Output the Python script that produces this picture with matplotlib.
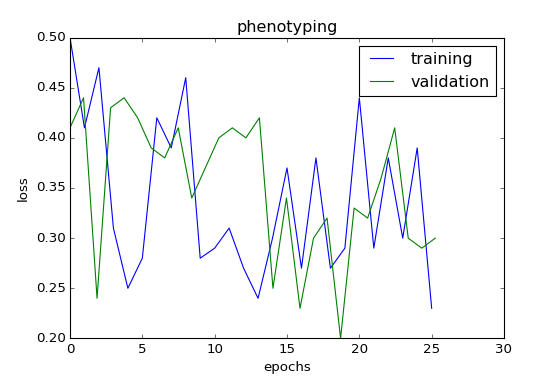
import numpy as np
import matplotlib
matplotlib.use('Agg')
import matplotlib.pyplot as plt

plt.style.use('classic')

# training loss, one per epoch
train_loss = [0.50, 0.41, 0.47, 0.31, 0.25, 0.28, 0.42, 0.39, 0.46, 0.28,
              0.29, 0.31, 0.27, 0.24, 0.30, 0.37, 0.27, 0.38, 0.27, 0.29,
              0.44, 0.29, 0.38, 0.30, 0.39, 0.23]
# validation loss, sampled a little more often
val_loss = [0.41, 0.44, 0.24, 0.43, 0.44, 0.42, 0.39, 0.38, 0.41, 0.34,
            0.37, 0.40, 0.41, 0.40, 0.42, 0.25, 0.34, 0.23, 0.30, 0.32,
            0.20, 0.33, 0.32, 0.36, 0.41, 0.30, 0.29, 0.30]

x_train = np.arange(len(train_loss))
x_val = np.linspace(0, 25.25, len(val_loss))

fig = plt.figure(figsize=(7, 4.7))
plt.plot(x_train, train_loss, 'b', label='training')
plt.plot(x_val, val_loss, 'g', label='validation')
plt.title('phenotyping')
plt.xlabel('epochs')
plt.ylabel('loss')
plt.xlim(0, 30)
plt.ylim(0.20, 0.50)
plt.legend(loc='upper right')
plt.savefig('out.png', dpi=80)
